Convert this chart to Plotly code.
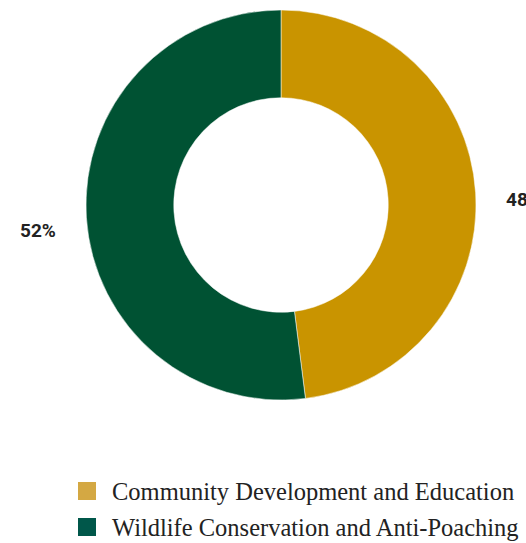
import math
import plotly.graph_objects as go

# Share of funding by program area
categories = ["Community Development and Education", "Wildlife Conservation and Anti-Poaching"]
shares = [48, 52]
slice_colors = ["#C99400", "#005233"]
legend_colors = ["#D4A843", "#00574A"]

W, H = 526, 543
cx, cy, r = 281, 205, 195      # pie centre and outer radius (px from top-left)
label_r = 243                  # distance of percentage labels from the centre
label_dy = 10                  # small downward nudge of the labels

fig = go.Figure(
    go.Pie(
        labels=categories,
        values=shares,
        sort=False,
        direction="clockwise",
        rotation=0,
        hole=0.55,
        marker=dict(colors=slice_colors, line=dict(color="white", width=0.5)),
        textinfo="none",
        domain=dict(x=[(cx - r) / W, (cx + r) / W], y=[1 - (cy + r) / H, 1 - (cy - r) / H]),
        hoverinfo="label+percent",
        showlegend=False,
    )
)

# Percentage labels placed outside each slice at its mid angle
total = sum(shares)
start = 0.0
for v in shares:
    mid = (start + v / 2) / total * 2 * math.pi
    start += v
    px = cx + label_r * math.sin(mid)
    py = cy - label_r * math.cos(mid) + label_dy
    fig.add_annotation(
        x=px / W, y=1 - py / H, xref="paper", yref="paper",
        text=f"{round(v / total * 100)}%", showarrow=False,
        xanchor="center", yanchor="middle",
        font=dict(family="Roboto, sans-serif", size=19, weight="bold", color="#222222"),
    )

# Legend drawn as square swatches with serif labels
sw_x0, sw_size, text_x = 78, 18, 110
row_y = [491, 527]
for name, col, y in zip(categories, legend_colors, row_y):
    fig.add_shape(
        type="rect", xref="paper", yref="paper",
        x0=sw_x0 / W, x1=(sw_x0 + sw_size) / W,
        y0=1 - (y + sw_size / 2) / H, y1=1 - (y - sw_size / 2) / H,
        fillcolor=col, line=dict(width=0),
    )
    fig.add_annotation(
        x=text_x / W, y=1 - y / H, xref="paper", yref="paper",
        text=name, showarrow=False, xanchor="left", yanchor="middle",
        font=dict(family="Liberation Serif, DejaVu Serif, serif", size=24.5, color="#222222"),
    )

fig.update_layout(
    width=W,
    height=H,
    margin=dict(l=0, r=0, t=0, b=0),
    paper_bgcolor="white",
    plot_bgcolor="white",
    showlegend=False,
)

fig.write_html("out.html")
